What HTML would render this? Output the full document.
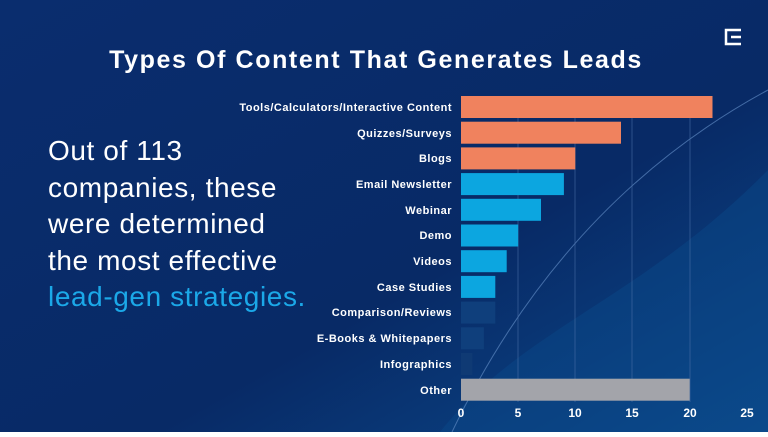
<!DOCTYPE html>
<html><head><style>
body{margin:0;width:768px;height:432px;overflow:hidden;font-family:"Liberation Sans",sans-serif}
</style></head><body>
<svg width="768" height="432" xmlns="http://www.w3.org/2000/svg">
<defs>
<linearGradient id="bg" x1="0" y1="0" x2="1" y2="1">
<stop offset="0" stop-color="#0a2d6e"/><stop offset="0.6" stop-color="#082a66"/><stop offset="1" stop-color="#0b4a8c"/></linearGradient>
</defs>
<rect width="768" height="432" fill="url(#bg)"/>
<path d="M440 432 C520 330 640 300 768 170 L768 432Z" fill="#0c4a8a" opacity="0.45"/>
<path d="M452 432 C520 290 620 170 768 90" fill="none" stroke="#5d87c0" stroke-width="1" opacity="0.7"/>
<g fill="none" stroke="#fff" stroke-width="2.5"><path d="M741 30H726V44H741M731 37H741"/></g>
<text x="376" y="68" fill="#fff" font-size="25" font-weight="bold" text-anchor="middle" letter-spacing="1.6">Types Of Content That Generates Leads</text>
<g fill="#fff" font-size="28" letter-spacing="0.6">
<text x="48" y="160">Out of 113</text>
<text x="48" y="197">companies, these</text>
<text x="48" y="233">were determined</text>
<text x="48" y="270">the most effective</text>
<text x="48" y="306" fill="#1ba8e8">lead-gen strategies.</text>
</g>
<g stroke="#4a6fa8" stroke-width="0.8" opacity="0.7">
<line x1="518" y1="96" x2="518" y2="402"/><line x1="575" y1="96" x2="575" y2="402"/><line x1="632" y1="96" x2="632" y2="402"/><line x1="690" y1="96" x2="690" y2="402"/>
</g>
<g>
<rect x="461" y="96" width="251.5" height="22" fill="#f0825e"/>
<rect x="461" y="121.7" width="160" height="22" fill="#f0825e"/>
<rect x="461" y="147.4" width="114.3" height="22" fill="#f0825e"/>
<rect x="461" y="173.1" width="102.9" height="22" fill="#0ca6e0"/>
<rect x="461" y="198.8" width="80" height="22" fill="#0ca6e0"/>
<rect x="461" y="224.5" width="57.2" height="22" fill="#0ca6e0"/>
<rect x="461" y="250.2" width="45.7" height="22" fill="#0ca6e0"/>
<rect x="461" y="275.9" width="34.3" height="22" fill="#0ca6e0"/>
<rect x="461" y="301.6" width="34.3" height="22" fill="#0f3f7c"/>
<rect x="461" y="327.3" width="22.9" height="22" fill="#0f3f7c"/>
<rect x="461" y="353" width="11.4" height="22" fill="#0f3a74"/>
<rect x="461" y="378.7" width="228.7" height="22" fill="#a3a4aa"/>
</g>
<g fill="#fff" font-size="11" font-weight="bold" text-anchor="end" letter-spacing="0.5">
<text x="452" y="111">Tools/Calculators/Interactive Content</text>
<text x="452" y="137">Quizzes/Surveys</text>
<text x="452" y="162">Blogs</text>
<text x="452" y="188">Email Newsletter</text>
<text x="452" y="214">Webinar</text>
<text x="452" y="239">Demo</text>
<text x="452" y="265">Videos</text>
<text x="452" y="291">Case Studies</text>
<text x="452" y="316">Comparison/Reviews</text>
<text x="452" y="342">E-Books &amp; Whitepapers</text>
<text x="452" y="368">Infographics</text>
<text x="452" y="394">Other</text>
</g>
<g fill="#fff" font-size="12" font-weight="bold" text-anchor="middle">
<text x="461" y="417">0</text><text x="518" y="417">5</text><text x="575" y="417">10</text><text x="632" y="417">15</text><text x="690" y="417">20</text><text x="747" y="417">25</text>
</g>
</svg>
</body></html>
